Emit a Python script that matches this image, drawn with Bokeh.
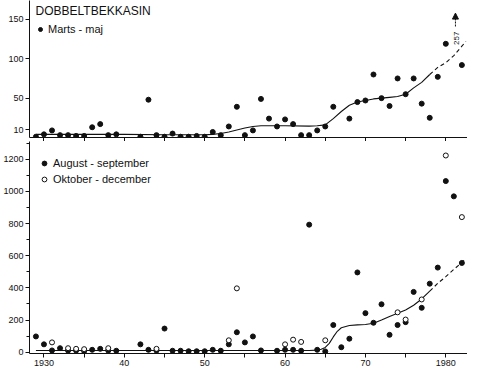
import numpy as np
from math import pi
from bokeh.plotting import figure
from bokeh.layouts import column
from bokeh.models import (Range1d, FixedTicker, Legend, LegendItem, Arrow,
                          NormalHead, Label)
from bokeh.embed import file_html
from bokeh.resources import INLINE

# ---------------- data ----------------
title_text = "DOBBELTBEKKASIN"
label_mm = "Marts - maj"
label_as = "August - september"
label_od = "Oktober - december"

years_mm = [1929, 1930, 1931, 1932, 1933, 1934, 1935, 1936, 1937, 1938, 1939,
            1942, 1943, 1944, 1945, 1946, 1947, 1948, 1949, 1950, 1951, 1952,
            1953, 1954, 1955, 1956, 1957, 1958, 1959, 1960, 1961, 1962, 1963,
            1964, 1965, 1966, 1968, 1969, 1970, 1971, 1972, 1973, 1974, 1975,
            1976, 1977, 1978, 1979, 1980, 1981, 1982]
vals_mm = [1, 4, 9, 3, 3, 2, 2, 13, 17, 3, 4,
           1, 48, 3, 1, 5, 1, 1, 2, 1, 7, 3,
           14, 39, 3, 9, 49, 24, 14, 23, 17, 3, 3,
           9, 14, 39, 24, 45, 47, 80, 50, 40, 75, 55,
           75, 43, 25, 77, 119, 257, 92]

trend_mm_years = [1929, 1935, 1940, 1945, 1950, 1951, 1952, 1953, 1954, 1955,
                  1956, 1957, 1960, 1963, 1964, 1965, 1966, 1967, 1968, 1969,
                  1970, 1971, 1972, 1973, 1974, 1975, 1976, 1977, 1978]
trend_mm_vals = [4, 4, 4, 3.5, 3.5, 4, 5, 7, 9.5, 12,
                 14, 15, 15, 14.5, 15, 16, 24, 33, 41, 45,
                 47, 49, 50, 51, 52, 55, 63, 70, 80]
trend_mm_dash_years = [1978, 1979, 1980, 1981, 1982, 1982.5]
trend_mm_dash_vals = [80, 89, 95, 104, 116, 122]

years_as = [1929, 1930, 1931, 1932, 1933, 1934, 1935, 1936, 1937, 1938, 1939,
            1942, 1943, 1944, 1945, 1946, 1947, 1948, 1949, 1950, 1951, 1952,
            1953, 1954, 1955, 1956, 1957, 1959, 1960, 1961, 1962, 1963, 1964,
            1965, 1966, 1967, 1968, 1969, 1970, 1971, 1972, 1973, 1974, 1975,
            1976, 1977, 1978, 1979, 1980, 1981, 1982]
vals_as = [98, 49, 11, 25, 10, 10, 7, 15, 21, 10, 9,
           49, 15, 10, 147, 9, 9, 6, 6, 6, 15, 9,
           49, 124, 61, 98, 11, 9, 15, 15, 9, 793, 15,
           5, 169, 31, 84, 496, 243, 183, 298, 108, 169, 187,
           375, 276, 426, 526, 1064, 969, 555]

years_od = [1931, 1933, 1934, 1935, 1938, 1944, 1953, 1954, 1960, 1961, 1962,
            1965, 1974, 1975, 1977, 1980, 1982]
vals_od = [61, 25, 21, 19, 25, 21, 74, 397, 49, 78, 64,
           74, 248, 203, 328, 1223, 840]

trend_ao_years = [1929, 1935, 1940, 1945, 1950, 1955, 1960, 1963, 1964, 1964.5,
                  1965, 1965.5, 1966, 1966.5, 1967, 1968, 1969, 1970, 1971,
                  1972, 1973, 1974, 1975, 1976, 1977, 1978]
trend_ao_vals = [11, 11, 11, 11, 11, 11, 11, 11, 13, 18,
                 30, 55, 95, 130, 152, 166, 170, 172, 180,
                 200, 222, 242, 262, 292, 331, 380]
trend_ao_dash_years = [1978, 1979, 1980, 1981, 1982, 1982.5]
trend_ao_dash_vals = [380, 428, 470, 515, 558, 580]

x_major = [1930, 1940, 1950, 1960, 1970, 1980]
x_minor = [1935, 1945, 1955, 1965, 1975]
x_tick_labels = {1930: "1930", 1940: "40", 1950: "50", 1960: "60", 1970: "70", 1980: "1980"}
top_y_ticks = [10, 50, 100, 150]
bot_y_ticks = [0, 200, 400, 600, 800, 1000, 1200]
bot_y_minor = [100, 300, 500, 700, 900, 1100, 1300]

# ---------------- styling ----------------
INK = "#111111"
FONT = "Liberation Sans"
TOP_YMAX = 174

xr = Range1d(1928.2, 1982.7)


def style_axes(p):
    p.outline_line_color = None
    p.xgrid.visible = False
    p.ygrid.visible = False
    p.background_fill_color = "white"
    for ax in p.xaxis + p.yaxis:
        ax.axis_line_color = INK
        ax.axis_line_width = 1
        ax.major_tick_line_color = INK
        ax.minor_tick_line_color = INK
        ax.major_tick_in = 0
        ax.major_tick_out = 4
        ax.minor_tick_in = 0
        ax.minor_tick_out = 3
        ax.major_label_text_font = FONT
        ax.major_label_text_font_size = "9px"
        ax.major_label_text_color = INK
        ax.major_label_standoff = 2


# ---------------- top panel ----------------
top = figure(width=467, height=141, x_range=xr, y_range=Range1d(0, TOP_YMAX),
             output_backend="svg", toolbar_location=None,
             min_border_left=27, min_border_right=0, min_border_top=0,
             min_border_bottom=0)
style_axes(top)
top.xaxis.ticker = FixedTicker(ticks=[], minor_ticks=x_major + x_minor)
top.xaxis.minor_tick_out = 4
top.yaxis.ticker = FixedTicker(ticks=top_y_ticks, minor_ticks=[])

ym = np.array(years_mm, dtype=float)
vm = np.array(vals_mm, dtype=float)
inside = vm <= TOP_YMAX
top.line(trend_mm_years, trend_mm_vals, line_color=INK, line_width=1.1)
top.line(trend_mm_dash_years, trend_mm_dash_vals, line_color=INK,
         line_width=1.1, line_dash="4 3")
r_mm = top.scatter(ym[inside], vm[inside], size=5, marker="circle",
                   fill_color=INK, line_color=INK)

# off-scale value: arrow + value label
for yr, v in zip(ym[~inside], vm[~inside]):
    top.add_layout(Arrow(end=NormalHead(size=6, fill_color=INK, line_color=INK),
                         x_start=yr + 0.2, y_start=141, x_end=yr + 0.2, y_end=158,
                         line_color=INK, line_width=1, line_dash="2 1"))
    top.add_layout(Label(x=yr + 0.35, y=126, text=str(int(v)), angle=pi / 2,
                         text_align="center", text_baseline="middle",
                         text_font=FONT, text_font_size="8px", text_color=INK))

top.add_layout(Label(x=6, y=134, x_units="screen", y_units="screen",
                     text=title_text, text_align="left", text_baseline="top",
                     text_font=FONT, text_font_size="12px", text_color=INK))

leg_top = Legend(items=[LegendItem(label=label_mm, renderers=[r_mm])],
                 location=(6, 102))
leg_top.label_text_font = FONT
leg_top.label_text_font_size = "11px"
leg_top.label_text_color = INK
leg_top.glyph_width = 10
leg_top.glyph_height = 12
leg_top.label_standoff = 3
leg_top.label_height = 12
leg_top.padding = 2
leg_top.margin = 0
leg_top.spacing = 0
leg_top.background_fill_alpha = 0
leg_top.border_line_color = None
top.add_layout(leg_top)

# ---------------- bottom panel ----------------
bot = figure(width=467, height=227, x_range=xr, y_range=Range1d(-8, 1310),
             output_backend="svg", toolbar_location=None,
             min_border_left=27, min_border_right=0, min_border_top=0,
             min_border_bottom=0)
style_axes(bot)
bot.xaxis.ticker = FixedTicker(ticks=x_major, minor_ticks=x_minor)
bot.xaxis.minor_tick_out = 4
bot.xaxis.major_label_overrides = x_tick_labels
bot.yaxis.ticker = FixedTicker(ticks=bot_y_ticks, minor_ticks=bot_y_minor)

bot.line(trend_ao_years, trend_ao_vals, line_color=INK, line_width=1.1)
bot.line(trend_ao_dash_years, trend_ao_dash_vals, line_color=INK,
         line_width=1.1, line_dash="4 3")
r_as = bot.scatter(years_as, vals_as, size=5, marker="circle",
                   fill_color=INK, line_color=INK)
r_od = bot.scatter(years_od, vals_od, size=5, marker="circle",
                   fill_color="white", line_color=INK, line_width=1)

leg_bot = Legend(items=[LegendItem(label=label_as, renderers=[r_as]),
                        LegendItem(label=label_od, renderers=[r_od])],
                 location=(9, 168))
leg_bot.label_text_font = FONT
leg_bot.label_text_font_size = "11px"
leg_bot.label_text_color = INK
leg_bot.glyph_width = 12
leg_bot.glyph_height = 12
leg_bot.label_standoff = 3
leg_bot.label_height = 12
leg_bot.padding = 2
leg_bot.margin = 0
leg_bot.spacing = 4
leg_bot.background_fill_alpha = 0
leg_bot.border_line_color = None
bot.add_layout(leg_bot)

layout = column(top, bot, spacing=0)
open("out.html", "w").write(file_html(layout, INLINE))
